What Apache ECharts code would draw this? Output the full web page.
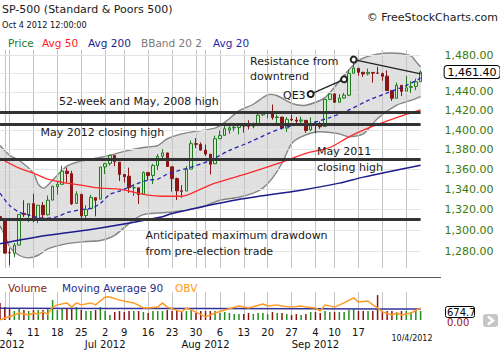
<!DOCTYPE html>
<html><head><meta charset="utf-8">
<script src="https://cdn.jsdelivr.net/npm/echarts@6/dist/echarts.min.js"></script>
<style>html,body{margin:0;padding:0;background:#fff}#c{width:500px;height:350px}</style>
</head><body><div id="c"></div>
<script>
// ---------- DATA ----------
const dates = ['2012-05-31','2012-06-01','2012-06-04','2012-06-05','2012-06-06','2012-06-07','2012-06-08','2012-06-11','2012-06-12','2012-06-13','2012-06-14','2012-06-15','2012-06-18','2012-06-19','2012-06-20','2012-06-21','2012-06-22','2012-06-25','2012-06-26','2012-06-27','2012-06-28','2012-06-29','2012-07-02','2012-07-03','2012-07-05','2012-07-06','2012-07-09','2012-07-10','2012-07-11','2012-07-12','2012-07-13','2012-07-16','2012-07-17','2012-07-18','2012-07-19','2012-07-20','2012-07-23','2012-07-24','2012-07-25','2012-07-26','2012-07-27','2012-07-30','2012-07-31','2012-08-01','2012-08-02','2012-08-03','2012-08-06','2012-08-07','2012-08-08','2012-08-09','2012-08-10','2012-08-13','2012-08-14','2012-08-15','2012-08-16','2012-08-17','2012-08-20','2012-08-21','2012-08-22','2012-08-23','2012-08-24','2012-08-27','2012-08-28','2012-08-29','2012-08-30','2012-08-31','2012-09-04','2012-09-05','2012-09-06','2012-09-07','2012-09-10','2012-09-11','2012-09-12','2012-09-13','2012-09-14','2012-09-17','2012-09-18','2012-09-19','2012-09-20','2012-09-21','2012-09-24','2012-09-25','2012-09-26','2012-09-27','2012-09-28','2012-10-01','2012-10-02','2012-10-03','2012-10-04'];
const opens = [1313.09,1309.87,1278.29,1277.82,1285.61,1316.15,1314.99,1325.72,1309.40,1324.02,1314.88,1329.19,1342.42,1344.83,1357.98,1355.43,1325.92,1334.90,1314.09,1320.71,1331.52,1330.12,1362.33,1365.75,1373.72,1367.09,1354.66,1352.96,1341.40,1341.29,1334.81,1356.50,1353.68,1363.58,1373.01,1376.51,1362.34,1350.52,1338.35,1338.17,1360.05,1385.94,1385.27,1379.32,1375.13,1365.45,1391.04,1394.46,1400.00,1402.26,1402.58,1405.87,1404.36,1403.89,1405.57,1415.84,1417.85,1418.13,1413.09,1413.49,1401.99,1411.13,1410.44,1409.32,1410.08,1400.07,1406.54,1404.94,1403.74,1432.12,1437.92,1429.13,1433.56,1436.56,1460.07,1465.42,1461.19,1459.50,1461.05,1460.34,1459.76,1456.94,1441.60,1433.36,1447.13,1440.90,1444.99,1446.05,1451.08];
const highs = [1319.74,1309.87,1282.55,1287.62,1315.13,1329.05,1325.81,1335.52,1324.31,1327.28,1333.68,1343.32,1348.22,1363.46,1361.57,1358.27,1337.82,1334.90,1324.24,1334.40,1331.52,1362.17,1366.35,1374.81,1373.85,1367.09,1354.87,1361.54,1345.00,1341.29,1357.70,1357.26,1365.36,1375.26,1380.39,1376.51,1362.34,1351.53,1343.98,1363.13,1389.19,1391.74,1387.16,1385.03,1375.13,1394.16,1399.63,1407.14,1404.14,1405.95,1405.98,1405.87,1410.03,1407.73,1417.44,1418.71,1418.13,1426.68,1416.12,1413.49,1413.46,1416.17,1413.63,1413.95,1410.08,1413.09,1409.31,1408.81,1432.12,1437.92,1438.74,1437.76,1439.15,1463.76,1474.51,1465.63,1461.47,1465.15,1461.23,1467.07,1460.72,1463.24,1441.60,1450.20,1447.13,1457.14,1451.52,1454.30,1463.14];
const lows = [1298.90,1277.25,1266.74,1274.16,1285.61,1312.68,1307.77,1307.73,1306.62,1310.51,1314.14,1329.19,1334.46,1344.83,1346.45,1324.41,1325.92,1309.27,1310.30,1320.71,1313.29,1330.12,1355.08,1363.53,1363.02,1348.03,1346.65,1336.27,1333.25,1325.41,1334.81,1348.51,1345.07,1358.96,1371.21,1362.19,1337.56,1329.24,1331.50,1338.17,1360.05,1381.37,1379.17,1373.35,1354.65,1365.45,1391.04,1394.46,1396.13,1398.80,1395.62,1397.32,1400.60,1401.83,1404.15,1414.67,1412.12,1410.86,1406.78,1400.50,1398.04,1409.11,1405.59,1406.57,1397.01,1398.96,1396.56,1401.25,1403.74,1431.45,1428.98,1429.13,1432.99,1435.64,1460.07,1457.55,1456.13,1457.88,1449.98,1459.51,1452.06,1441.59,1430.53,1433.36,1435.60,1440.90,1439.01,1441.99,1451.08];
const closes = [1310.33,1278.04,1278.18,1285.50,1315.13,1314.99,1325.66,1308.93,1324.18,1314.88,1329.10,1342.84,1344.78,1357.98,1355.69,1325.51,1335.02,1313.72,1319.99,1331.85,1329.04,1362.16,1365.51,1374.02,1367.58,1354.68,1352.46,1341.47,1341.45,1334.76,1356.78,1353.64,1363.67,1372.78,1376.51,1362.66,1350.52,1338.31,1337.89,1360.02,1385.97,1385.30,1379.32,1375.32,1365.00,1390.99,1394.23,1401.35,1402.22,1402.80,1405.87,1404.11,1403.93,1405.53,1415.51,1418.16,1418.13,1413.17,1413.49,1402.08,1411.13,1410.44,1409.30,1410.49,1399.48,1406.58,1404.94,1403.44,1432.12,1437.92,1429.08,1433.56,1436.56,1459.99,1465.77,1461.19,1459.32,1461.05,1460.26,1460.15,1456.89,1441.59,1433.32,1447.15,1440.67,1444.49,1445.75,1450.99,1461.40];
const volumes = [1040,795,670,550,670,610,550,610,610,610,670,1220,610,670,670,735,795,610,550,550,610,795,550,305,490,550,490,550,550,550,490,430,550,550,550,610,550,610,490,550,610,430,550,550,550,550,430,490,430,365,365,365,430,365,430,430,365,490,430,430,365,305,365,305,365,490,490,430,550,490,490,490,490,610,670,550,550,550,550,1530,490,550,550,490,550,550,490,550,550];

// moving averages / bands (date, value)
const ma20Dates = ['2012-05-31','2012-06-04','2012-06-06','2012-06-08','2012-06-12','2012-06-14','2012-06-18','2012-06-20','2012-06-25','2012-06-27','2012-06-29','2012-07-03','2012-07-06','2012-07-10','2012-07-12','2012-07-16','2012-07-18','2012-07-20','2012-07-24','2012-07-27','2012-08-02','2012-08-08','2012-08-14','2012-08-20','2012-08-23','2012-08-28','2012-08-31','2012-09-07','2012-09-13','2012-09-19','2012-09-25','2012-10-01','2012-10-04'];
const ma20Vals = [1336,1324,1317.5,1314.6,1312,1311.5,1313,1317,1320,1321,1326,1335,1338,1342,1346,1349,1350,1355,1358,1362,1369,1379,1387,1396,1402,1405,1407,1413,1421,1431,1439,1447,1455];
const ma50Dates = ['2012-05-31','2012-06-06','2012-06-11','2012-06-14','2012-06-20','2012-06-25','2012-06-29','2012-07-06','2012-07-11','2012-07-16','2012-07-19','2012-07-25','2012-07-31','2012-08-03','2012-08-14','2012-08-23','2012-08-30','2012-09-07','2012-09-13','2012-09-19','2012-09-27','2012-10-04'];
const ma50Vals = [1371,1361,1356,1350,1346,1344,1341,1340,1337,1334,1333,1333,1340,1346,1356,1367,1376,1382,1393,1402,1413,1421];
const ma200Dates = ['2012-05-31','2012-06-14','2012-06-29','2012-07-19','2012-07-23','2012-08-09','2012-08-29','2012-09-11','2012-09-18','2012-10-04'];
const ma200Vals = [1287,1295,1302,1313,1316,1329,1339,1346,1352,1364];
const bbUpDates = ['2012-05-31','2012-06-04','2012-06-06','2012-06-11','2012-06-12','2012-06-13','2012-06-14','2012-06-18','2012-06-20','2012-06-22','2012-06-28','2012-07-03','2012-07-09','2012-07-13','2012-07-18','2012-07-20','2012-07-26','2012-08-03','2012-08-07','2012-08-10','2012-08-15','2012-08-20','2012-08-22','2012-08-27','2012-08-30','2012-09-06','2012-09-12','2012-09-17','2012-09-21','2012-09-27','2012-10-02','2012-10-03','2012-10-04'];
const bbUpVals = [1384,1374,1369,1356,1345,1341,1344,1354,1363,1367,1371,1374,1378,1382,1384,1391,1397,1402,1408,1420,1427,1437,1436,1428,1426,1434,1458,1474,1481,1482,1479,1473,1467];
const bbLoDates = ['2012-05-31','2012-06-01','2012-06-04','2012-06-06','2012-06-08','2012-06-12','2012-06-14','2012-06-20','2012-06-26','2012-06-29','2012-07-05','2012-07-11','2012-07-13','2012-07-18','2012-07-23','2012-07-31','2012-08-06','2012-08-10','2012-08-15','2012-08-17','2012-08-21','2012-08-23','2012-08-27','2012-08-29','2012-09-04','2012-09-06','2012-09-11','2012-09-13','2012-09-18','2012-09-21','2012-09-27','2012-10-02','2012-10-04'];
const bbLoVals = [1304,1295,1284,1276,1273.5,1276,1282,1287,1289,1290,1295,1310,1315,1316.5,1317.5,1322,1329,1332,1336,1341,1351,1366,1386,1393,1398,1398,1396,1393,1396,1412,1426,1431,1435];
// volume pane indicators
const ma90Dates = ['2012-05-31','2012-06-29','2012-07-31','2012-08-31','2012-09-21','2012-10-04'];
const ma90Vals = [715,708,700,690,680,674.7];
const obvDates = ['2012-05-31','2012-06-01','2012-06-05','2012-06-06','2012-06-08','2012-06-11','2012-06-12','2012-06-13','2012-06-14','2012-06-15','2012-06-18','2012-06-20','2012-06-21','2012-06-22','2012-06-25','2012-06-27','2012-06-28','2012-07-02','2012-07-03','2012-07-06','2012-07-11','2012-07-13','2012-07-16','2012-07-18','2012-07-19','2012-07-20','2012-07-25','2012-07-26','2012-07-27','2012-08-01','2012-08-03','2012-08-07','2012-08-10','2012-08-14','2012-08-17','2012-08-20','2012-08-22','2012-08-23','2012-08-27','2012-08-29','2012-08-30','2012-09-04','2012-09-05','2012-09-06','2012-09-10','2012-09-12','2012-09-14','2012-09-17','2012-09-19','2012-09-20','2012-09-21','2012-09-24','2012-09-26','2012-09-27','2012-09-28','2012-10-02','2012-10-04'];
const obvVals = [0,7,18,25,18,25,21,29,21,46,54,61,46,61,54,61,54,82,82,71,61,43,43,46,61,46,29,43,36,11,25,36,50,43,57,50,54,50,46,50,46,43,32,54,46,61,79,64,68,54,43,29,18,25,18,25,43];

// axis ticks & labels
const priceTicks = [1280,1300,1320,1340,1360,1380,1400,1420,1440,1460,1480];
const hiddenTickLabels = [1460];            // covered by the last-price box in the reference
const lastPrice = 1461.40;
const levelLines = [1419, 1406, 1370, 1310];
const gridDates = ['2012-06-01','2012-06-04','2012-06-11','2012-06-18','2012-06-25','2012-07-02','2012-07-09','2012-07-16','2012-07-23','2012-07-30','2012-08-01','2012-08-06','2012-08-13','2012-08-20','2012-08-27','2012-09-04','2012-09-10','2012-09-17','2012-09-24','2012-10-01'];
const dayLabelDates = ['2012-06-04','2012-06-11','2012-06-18','2012-06-25','2012-07-02','2012-07-09','2012-07-16','2012-07-23','2012-07-30','2012-08-06','2012-08-13','2012-08-20','2012-08-27','2012-09-04','2012-09-10','2012-09-17'];
const monthLabelDates = ['2012-05-31','2012-06-01','2012-07-02','2012-08-01','2012-09-04'];
const monthLabelTexts = ['May 2012','Jun 2012','Jul 2012','Aug 2012','Sep 2012'];

// ---------- CHART ----------
const FONT = 'DejaVu Sans';
const GREEN = '#1e7b1e', RED = '#8b1414';
function fmtPrice(v){ const s = v.toFixed(2); const p = s.split('.'); return p[0].replace(/\B(?=(\d{3})+(?!\d))/g, ',') + '.' + p[1]; }
function pairs(ds, vs){ return ds.map((d,i)=>[d, vs[i]]); }
function T(text, x, y, size, color, align, z){
  return {type:'text', x:x, y:y, silent:true, z:z||50, style:{text:text, fill:color, font: size+'px "'+FONT+'"', textAlign: align||'left', verticalAlign:'middle'}};
}

const chart = echarts.init(document.getElementById('c'), null, {renderer:'svg', width:500, height:350});

const gridCommon = {left:0, right:79.4, containLabel:false, outerBoundsMode:'none'};
const option = {
  animation:false,
  backgroundColor:'#fff',
  textStyle:{fontFamily:FONT},
  grid:[
    Object.assign({top:50, height:218}, gridCommon),
    Object.assign({top:292, height:28}, gridCommon)
  ],
  xAxis:[
    {type:'category', gridIndex:0, data:dates, boundaryGap:false, z:1,
     axisLine:{show:false}, axisTick:{show:false}, axisLabel:{show:false},
     splitLine:{show:true, interval:(i,v)=>gridDates.indexOf(v)>=0, lineStyle:{color:'#c4c4c4', width:1}}},
    {type:'category', gridIndex:1, data:dates, boundaryGap:false, z:1,
     axisLine:{show:false}, axisTick:{show:false},
     axisLabel:{show:true, interval:(i,v)=>dayLabelDates.indexOf(v)>=0, hideOverlap:false,
       formatter:(v)=>String(parseInt(v.slice(8),10)), fontSize:10, color:'#111', margin:7, fontFamily:FONT},
     splitLine:{show:true, interval:(i,v)=>gridDates.indexOf(v)>=0, lineStyle:{color:'#c4c4c4', width:1}}},
    {type:'category', gridIndex:1, data:dates, boundaryGap:false, position:'bottom', offset:12,
     axisLine:{show:false}, axisTick:{show:false}, splitLine:{show:false},
     axisLabel:{show:true, interval:(i,v)=>monthLabelDates.indexOf(v)>=0, hideOverlap:false, showMinLabel:true,
       formatter:(v)=>monthLabelTexts[monthLabelDates.indexOf(v)] || '', fontSize:10, color:'#111', margin:7, fontFamily:FONT}}
  ],
  yAxis:[
    {type:'log', logBase:10, gridIndex:0, min:1264, max:1485.5, show:false, splitLine:{show:false}},
    {type:'value', gridIndex:1, min:0, max:1720, show:false, splitLine:{show:false}},
    {type:'value', gridIndex:1, min:0, max:100, show:false, splitLine:{show:false}}
  ],
  series:[
    { // Bollinger band
      name:'BBand 20 2', type:'custom', xAxisIndex:0, yAxisIndex:0, z:0, silent:true, clip:true,
      data: pairs(bbUpDates, bbUpVals),
      renderItem:function(params, api){
        if (params.dataIndex !== 0) return null;
        const up = bbUpDates.map((d,i)=>api.coord([d, bbUpVals[i]]));
        const lo = bbLoDates.map((d,i)=>api.coord([d, bbLoVals[i]]));
        return {type:'group', children:[
          {type:'polygon', shape:{points: up.concat(lo.slice().reverse()), smooth:0.25}, style:{fill:'#e0e0e0', stroke:null}},
          {type:'polyline', shape:{points: up, smooth:0.25}, style:{stroke:'#858585', lineWidth:1.4, fill:null}},
          {type:'polyline', shape:{points: lo, smooth:0.25}, style:{stroke:'#858585', lineWidth:1.4, fill:null}}
        ]};
      }
    },
    { name:'Price', type:'candlestick', xAxisIndex:0, yAxisIndex:0, z:2, clip:false, barWidth:3,
      data: dates.map((d,i)=>[opens[i], closes[i], lows[i], highs[i]]),
      itemStyle:{color:'#d2ebcb', color0:RED, borderColor:GREEN, borderColor0:RED, borderWidth:1},
      markLine:{silent:true, z:1, symbol:['none','none'], animation:false,
        lineStyle:{color:'#e4e4e4', width:1, type:'solid'},
        label:{show:true, position:'end', distance:24, color:'#3d7a0a', fontSize:11, fontFamily:FONT},
        data: priceTicks.map(v=>({yAxis:v, label:{show: hiddenTickLabels.indexOf(v)<0, formatter: fmtPrice(v)}}))
      }
    },
    { name:'Avg 50', type:'line', xAxisIndex:0, yAxisIndex:0, z:3, data:pairs(ma50Dates, ma50Vals),
      showSymbol:false, smooth:0.3, lineStyle:{color:'#ff2a2a', width:1.3}, silent:true,
      markLine:{silent:true, z:4, symbol:['none','none'], label:{show:false},
        lineStyle:{color:'#333', width:3, type:'solid'},
        data: levelLines.map(v=>({yAxis:v}))}
    },
    { name:'Avg 200', type:'line', xAxisIndex:0, yAxisIndex:0, z:3, data:pairs(ma200Dates, ma200Vals),
      showSymbol:false, smooth:0.3, lineStyle:{color:'#1c1c8c', width:1.5}, silent:true,
      markLine:{silent:true, z:4, label:{show:false}, symbolSize:6,
        lineStyle:{color:'#222', width:1.3, type:'solid'},
        data:[
          [{coord:['2012-09-14', 1475], symbol:'emptyCircle'}, {coord:['2012-10-04', 1459.4], symbol:'none'}],
          [{coord:['2012-08-31', 1437.8], symbol:'emptyCircle'}, {coord:['2012-09-12', 1453.6], symbol:'emptyCircle'}]
        ]}
    },
    { name:'Avg 20', type:'line', xAxisIndex:0, yAxisIndex:0, z:3, data:pairs(ma20Dates, ma20Vals),
      showSymbol:false, smooth:0.3, lineStyle:{color:'#2626b4', width:1.3, type:[4,3]}, silent:true,
      markLine:{silent:true, z:6, symbol:['none','none'],
        lineStyle:{color:'rgba(0,0,0,0)', width:1, type:'solid'},
        label:{show:true, position:'end', distance:24, formatter: fmtPrice(lastPrice), color:'#000', fontSize:11, fontFamily:FONT,
               backgroundColor:'#fff', borderColor:'#000', borderWidth:1, borderRadius:3, padding:[1,3,0,3]},
        data:[{yAxis:lastPrice}]}
    },
    { name:'Volume', type:'bar', xAxisIndex:1, yAxisIndex:1, barWidth:1.5, z:2, silent:true,
      data: volumes.map((v,i)=>({value:v, itemStyle:{color: closes[i]>=opens[i] ? '#1f8f1f' : RED}})) },
    { name:'Moving Average 90', type:'line', xAxisIndex:1, yAxisIndex:1, z:3, data:pairs(ma90Dates, ma90Vals),
      showSymbol:false, lineStyle:{color:'#33339a', width:1.5}, silent:true },
    { name:'OBV', type:'line', xAxisIndex:1, yAxisIndex:2, z:4, data:pairs(obvDates, obvVals),
      showSymbol:false, lineStyle:{color:'#ff9a22', width:1.5}, silent:true }
  ],
  graphic:[
    T('SP-500 (Standard & Poors 500)', 2, 9.5, 11, '#1a1a1a'),
    T('Oct 4 2012 12:00:00', 2, 25, 8.2, '#111'),
    T('Price', 8, 43, 10.5, '#1f7a1f'),
    T('Avg 50', 42, 43, 10.5, '#ff1a1a'),
    T('Avg 200', 88, 43, 10.5, '#1c1c8c'),
    T('BBand 20 2', 141, 43, 10.5, '#7a7a7a'),
    T('Avg 20', 213, 43, 10.5, '#1f1fa8'),
    T('\u00A9 FreeStockCharts.com', 498, 17, 11, '#1a1a1a', 'right'),
    T('Resistance from', 250, 61, 11, '#1a1a1a'),
    T('downtrend', 250, 76, 11, '#1a1a1a'),
    T('QE3', 283, 95, 11, '#1a1a1a'),
    T('52-week and May, 2008 high', 59, 101.5, 11, '#1a1a1a'),
    T('May 2012 closing high', 40.5, 132.5, 11, '#1a1a1a'),
    T('May 2011', 317, 151.5, 11, '#1a1a1a'),
    T('closing high', 317, 167.5, 11, '#1a1a1a'),
    T('Anticipated maximum drawdown', 145.5, 235, 11, '#1a1a1a'),
    T('from pre-election trade', 145.5, 251.5, 11, '#1a1a1a'),
    {type:'line', silent:true, z:50, shape:{x1:0, y1:277.5, x2:441, y2:277.5}, style:{stroke:'#5a5a5a', lineWidth:1}},
    T('Volume', 8, 288, 10.5, '#8b1a1a'),
    T('Moving Average 90', 62, 288, 10.5, '#2a2a8a'),
    T('OBV', 175, 288, 10.5, '#ff9a22'),
    T('10/4/2012', 412, 338, 8, '#111', 'center'),
    T('0.00', 447, 322, 10, '#a01010'),
    {type:'rect', silent:true, z:51, shape:{x:445.5, y:306.5, width:29, height:11, r:2}, style:{fill:'#fff', stroke:'#000', lineWidth:1}},
    T('674.7', 447, 312.5, 10, '#000', 'left', 52),
    {type:'rect', silent:true, z:50, shape:{x:483, y:314, width:15, height:13, r:3}, style:{fill:'#c6c6c6'}},
    {type:'polyline', silent:true, z:51, shape:{points:[[488,316.5],[493,320.5],[488,324.5]]}, style:{stroke:'#fff', lineWidth:2.5, fill:null}}
  ]
};
chart.setOption(option);
</script>
</body></html>
